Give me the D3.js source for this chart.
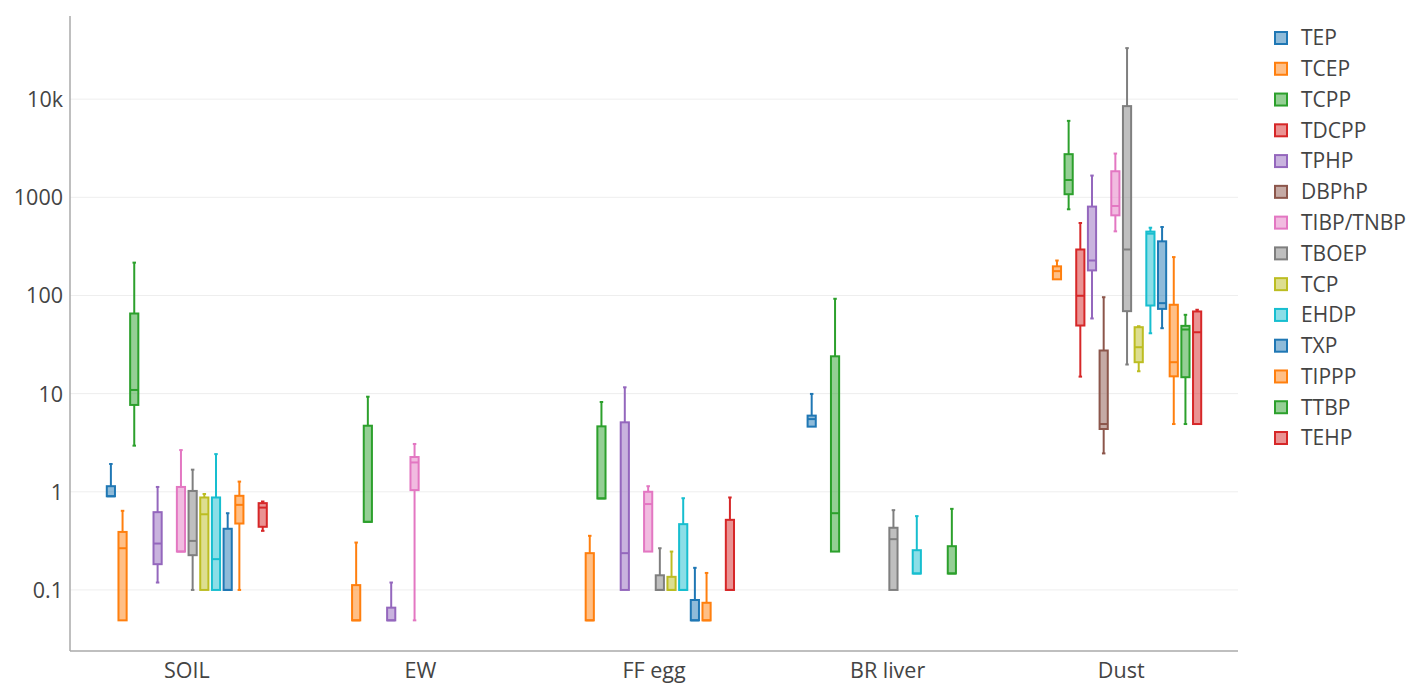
<!DOCTYPE html>
<html>
<head>
<meta charset="utf-8">
<script src="https://cdn.jsdelivr.net/npm/d3@7"></script>
<style>
  html, body { margin: 0; padding: 0; background: #fff; }
  svg { display: block; font-family: "Open Sans", "Noto Sans", sans-serif; }
</style>
</head>
<body>
<svg id="chart" width="1411" height="684"></svg>
<script>
// ---- data ----
const categories = ["SOIL", "EW", "FF egg", "BR liver", "Dust"];
const seriesNames = ["TEP", "TCEP", "TCPP", "TDCPP", "TPHP", "DBPhP", "TIBP/TNBP", "TBOEP", "TCP", "EHDP", "TXP", "TIPPP", "TTBP", "TEHP"];
const colors = ["#1f77b4", "#ff7f0e", "#2ca02c", "#d62728", "#9467bd", "#8c564b", "#e377c2", "#7f7f7f", "#bcbd22", "#17becf", "#1f77b4", "#ff7f0e", "#2ca02c", "#d62728"];
const yTickValues = [0.1, 1, 10, 100, 1000, 10000];
const yTickLabels = ["0.1", "1", "10", "100", "1000", "10k"];

// each entry: [min, q1, median, q3, max] per category (null = no data)
const TEP   = [[0.9, 0.9, 0.9, 1.14, 1.92], null, null, [4.61, 4.61, 5.5, 5.97, 9.93], null];
const TCEP  = [[0.049, 0.049, 0.266, 0.39, 0.64], [0.049, 0.049, 0.049, 0.112, 0.304], [0.049, 0.049, 0.049, 0.237, 0.356], null, [146, 146, 177, 198, 227]];
const TCPP  = [[2.95, 7.67, 10.9, 65.5, 216], [0.494, 0.494, 0.494, 4.71, 9.3], [0.855, 0.855, 0.855, 4.64, 8.22], [0.246, 0.246, 0.605, 24, 92.5], [755, 1075, 1500, 2750, 6010]];
const TDCPP = [null, null, null, null, [14.9, 49.4, 99.3, 294, 547]];
const TPHP  = [[0.119, 0.183, 0.297, 0.62, 1.12], [0.049, 0.049, 0.049, 0.066, 0.119], [0.1, 0.1, 0.237, 5.1, 11.6], null, [58.3, 180, 227, 804, 1665]];
const DBPhP = [null, null, null, null, [2.46, 4.36, 4.9, 27.5, 96]];
const TIBP  = [[0.246, 0.246, 0.246, 1.12, 2.66], [0.049, 1.04, 1.99, 2.26, 3.07], [0.246, 0.246, 0.75, 1.0, 1.14], null, [450, 655, 816, 1842, 2790]];
const TBOEP = [[0.1, 0.226, 0.316, 1.02, 1.68], null, [0.1, 0.1, 0.1, 0.141, 0.266], [0.1, 0.1, 0.329, 0.43, 0.65], [19.8, 69.2, 294, 8490, 33100]];
const TCP   = [[0.1, 0.1, 0.59, 0.875, 0.95], null, [0.1, 0.1, 0.1, 0.136, 0.246], null, [16.9, 20.9, 29.7, 47.5, 48.6]];
const EHDP  = [[0.1, 0.1, 0.206, 0.875, 2.42], null, [0.1, 0.1, 0.1, 0.468, 0.86], [0.147, 0.147, 0.147, 0.254, 0.565], [41.2, 79, 426, 447, 490]];
const TXP   = [[0.1, 0.1, 0.1, 0.42, 0.605], null, [0.049, 0.049, 0.049, 0.079, 0.168], null, [46.4, 73, 83.5, 356, 498]];
const TIPPP = [[0.1, 0.475, 0.736, 0.91, 1.27], null, [0.049, 0.049, 0.049, 0.074, 0.149], null, [4.9, 15, 20.9, 80.4, 246]];
const TTBP  = [null, null, null, [0.147, 0.147, 0.147, 0.279, 0.67], [4.9, 14.7, 45, 49, 63.5]];
const TEHP  = [[0.40, 0.44, 0.69, 0.766, 0.796], null, [0.1, 0.1, 0.1, 0.518, 0.875], null, [4.9, 4.9, 42.2, 68.7, 71.5]];

const seriesData = [TEP, TCEP, TCPP, TDCPP, TPHP, DBPhP, TIBP, TBOEP, TCP, EHDP, TXP, TIPPP, TTBP, TEHP];

// ---- layout ----
const plot = { left: 70, right: 1238, top: 16, bottom: 651 };
const svg = d3.select("#chart");

const x = d3.scaleBand().domain(categories).range([plot.left, plot.right]).padding(0);
const xs = d3.scaleBand().domain(seriesNames)
  .range([x.bandwidth() * 0.15, x.bandwidth() * 0.85])
  .paddingInner(0.3).paddingOuter(0.15);
const y = d3.scaleLog().domain([Math.pow(10, -1.622), Math.pow(10, 4.847)]).range([plot.bottom, plot.top]);

// grid
svg.append("g").selectAll("line").data(yTickValues).join("line")
  .attr("x1", plot.left).attr("x2", plot.right)
  .attr("y1", d => y(d)).attr("y2", d => y(d))
  .attr("stroke", "#eeeeee").attr("stroke-width", 1);

// y axis
const yAxis = svg.append("g").attr("transform", `translate(${plot.left - 7},0)`)
  .call(d3.axisLeft(y).tickValues(yTickValues).tickSize(0).tickFormat((d, i) => yTickLabels[i]));
yAxis.select(".domain").remove();
yAxis.selectAll("text").attr("font-size", 21.5).attr("fill", "#444").attr("font-family", "'Open Sans', sans-serif").attr("dy", "0.35em").attr("x", 0);

// x axis
const xAxis = svg.append("g").attr("transform", `translate(0,${plot.bottom})`)
  .call(d3.axisBottom(x).tickSize(0));
xAxis.select(".domain").remove();
xAxis.selectAll("text").attr("font-size", 21.5).attr("fill", "#444").attr("font-family", "'Open Sans', sans-serif").attr("y", 27).attr("dy", 0);

// axis lines
svg.append("line").attr("x1", plot.left).attr("x2", plot.left).attr("y1", plot.top).attr("y2", plot.bottom)
  .attr("stroke", "#aaa").attr("stroke-width", 1.5);
svg.append("line").attr("x1", plot.left).attr("x2", plot.right).attr("y1", plot.bottom).attr("y2", plot.bottom)
  .attr("stroke", "#aaa").attr("stroke-width", 1.5);

// boxes
const boxes = [];
seriesData.forEach((arr, si) => {
  arr.forEach((s, ci) => {
    if (s) boxes.push({ series: seriesNames[si], color: colors[si], cat: categories[ci], min: s[0], q1: s[1], med: s[2], q3: s[3], max: s[4] });
  });
});

const bw = xs.bandwidth();
const capW = 3.5;
const g = svg.append("g");
boxes.forEach(b => {
  const x0 = x(b.cat) + xs(b.series);
  const cx = x0 + bw / 2;
  const bg = g.append("g");
  // whiskers
  if (b.max > b.q3) {
    bg.append("line").attr("x1", cx).attr("x2", cx).attr("y1", y(b.q3)).attr("y2", y(b.max)).attr("stroke", b.color).attr("stroke-width", 2);
    bg.append("line").attr("x1", cx - capW / 2).attr("x2", cx + capW / 2).attr("y1", y(b.max)).attr("y2", y(b.max)).attr("stroke", b.color).attr("stroke-width", 2);
  }
  if (b.min < b.q1) {
    bg.append("line").attr("x1", cx).attr("x2", cx).attr("y1", y(b.q1)).attr("y2", y(b.min)).attr("stroke", b.color).attr("stroke-width", 2);
    bg.append("line").attr("x1", cx - capW / 2).attr("x2", cx + capW / 2).attr("y1", y(b.min)).attr("y2", y(b.min)).attr("stroke", b.color).attr("stroke-width", 2);
  }
  // box
  bg.append("rect").attr("x", x0).attr("width", bw)
    .attr("y", y(b.q3)).attr("height", Math.max(0.5, y(b.q1) - y(b.q3)))
    .attr("fill", b.color).attr("fill-opacity", 0.5)
    .attr("stroke", b.color).attr("stroke-width", 2);
  // median
  bg.append("line").attr("x1", x0).attr("x2", x0 + bw).attr("y1", y(b.med)).attr("y2", y(b.med))
    .attr("stroke", b.color).attr("stroke-width", 2);
});

// legend
const legend = svg.append("g").attr("transform", "translate(1274,38)");
const rowH = 30.77;
seriesNames.forEach((name, i) => {
  const row = legend.append("g").attr("transform", `translate(0,${i * rowH})`);
  row.append("rect").attr("x", 1).attr("y", -6).attr("width", 12).attr("height", 12)
    .attr("fill", colors[i]).attr("fill-opacity", 0.5).attr("stroke", colors[i]).attr("stroke-width", 2);
  row.append("text").attr("x", 27).attr("y", 0).attr("dy", "0.35em")
    .attr("font-size", 21).attr("fill", "#444").attr("font-family", "'Open Sans', sans-serif").text(name);
});
</script>
</body>
</html>
